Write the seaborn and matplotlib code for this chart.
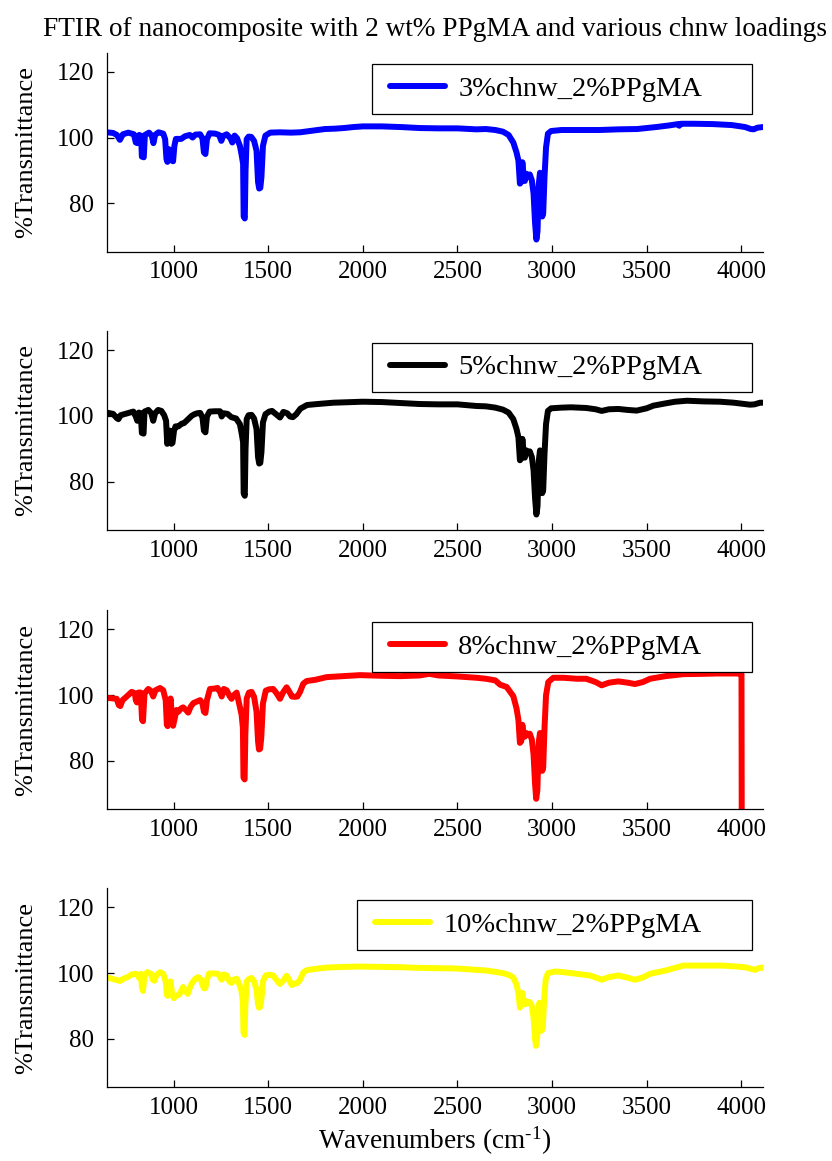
import matplotlib
matplotlib.use("Agg")
import matplotlib.pyplot as plt
import numpy as np
import pandas as pd
import seaborn as sns
from matplotlib.legend_handler import HandlerLine2D
from matplotlib.lines import Line2D

# Wavenumber (cm^-1) and %Transmittance for each chnw loading
wn_3 = [646, 680, 700, 716, 732, 760, 790, 800, 808, 818, 828, 832, 842, 848, 870, 885, 893, 902, 920, 945,
        955, 962, 967, 974, 982, 990, 997, 1004, 1012, 1040, 1060, 1085, 1100, 1115, 1140, 1152, 1160, 1168, 1176, 1190,
        1220, 1240, 1252, 1262, 1280, 1300, 1310, 1322, 1335, 1350, 1360, 1367, 1370, 1376, 1380, 1386, 1396, 1410, 1425, 1438,
        1446, 1452, 1458, 1464, 1472, 1485, 1510, 1560, 1620, 1668, 1720, 1760, 1800, 1850, 1900, 1950, 2000, 2100, 2200, 2300,
        2400, 2500, 2600, 2650, 2700, 2740, 2770, 2795, 2812, 2822, 2830, 2837, 2843, 2850, 2856, 2864, 2872, 2882, 2893, 2902,
        2910, 2917, 2923, 2930, 2936, 2942, 2948, 2953, 2960, 2968, 2978, 2995, 3050, 3150, 3250, 3350, 3450, 3550, 3620, 3665,
        3672, 3680, 3750, 3850, 3950, 4020, 4050, 4065, 4085, 4113]
t_3 = [101.6, 101.4, 100.8, 99.3, 101.0, 101.5, 101.0, 98.5, 98.3, 100.8, 100.5, 94.2, 94.0, 100.8, 101.5, 100.5, 98.3, 100.8, 101.6, 101.2,
       99.5, 93.5, 92.6, 96.5, 95.5, 93.0, 92.8, 97.5, 99.6, 99.6, 100.4, 100.8, 100.0, 100.9, 101.0, 99.8, 95.5, 95.0, 99.5, 101.3,
       101.2, 100.8, 99.0, 100.5, 101.0, 99.8, 98.5, 100.6, 99.8, 97.5, 94.5, 92.0, 76.0, 75.4, 90.0, 99.5, 100.3, 100.2, 99.0, 96.0,
       86.5, 84.5, 84.7, 88.0, 97.5, 100.6, 101.5, 101.6, 101.5, 101.6, 102.0, 102.3, 102.6, 102.7, 102.9, 103.2, 103.4, 103.4, 103.2, 102.9,
       102.8, 102.8, 102.5, 102.6, 102.3, 101.8, 100.8, 98.5, 95.5, 93.0, 86.0, 86.5, 92.5, 88.0, 86.8, 89.0, 88.2, 88.8, 87.0, 83.0,
       74.0, 69.0, 71.5, 86.0, 89.3, 86.0, 76.0, 77.0, 88.0, 97.0, 101.2, 102.0, 102.3, 102.3, 102.3, 102.5, 102.6, 103.2, 103.7, 104.1,
       103.6, 104.2, 104.2, 104.1, 103.8, 103.2, 102.6, 102.5, 103.0, 103.2]

wn_5 = [646, 680, 700, 708, 720, 745, 770, 787, 800, 808, 816, 826, 832, 841, 846, 866, 882, 892, 902, 918,
        935, 950, 960, 966, 972, 980, 988, 994, 1002, 1010, 1025, 1042, 1055, 1077, 1095, 1110, 1125, 1140, 1152, 1160,
        1168, 1176, 1190, 1220, 1245, 1254, 1264, 1285, 1305, 1330, 1350, 1360, 1367, 1370, 1376, 1380, 1386, 1396, 1412, 1425,
        1438, 1446, 1452, 1458, 1464, 1472, 1485, 1505, 1520, 1545, 1562, 1580, 1600, 1615, 1630, 1648, 1670, 1705, 1760, 1844,
        1950, 2000, 2100, 2200, 2300, 2400, 2500, 2600, 2650, 2700, 2740, 2770, 2795, 2812, 2822, 2830, 2837, 2843, 2850, 2856,
        2864, 2872, 2882, 2893, 2902, 2910, 2917, 2923, 2930, 2936, 2942, 2948, 2953, 2960, 2968, 2978, 2995, 3050, 3100, 3180,
        3230, 3262, 3300, 3350, 3400, 3447, 3500, 3535, 3600, 3650, 3712, 3800, 3888, 3960, 4020, 4046, 4070, 4099, 4113]
t_5 = [101.0, 100.6, 99.3, 99.0, 100.2, 100.6, 101.0, 101.3, 99.8, 98.5, 101.0, 100.8, 94.8, 94.6, 101.3, 101.8, 100.8, 98.5, 100.8, 101.8,
       101.5, 100.2, 98.5, 91.5, 93.0, 95.5, 91.5, 91.8, 95.5, 96.8, 96.8, 97.6, 97.8, 99.0, 100.0, 100.5, 100.8, 100.9, 99.6, 95.5,
       95.0, 99.8, 101.3, 101.4, 101.4, 99.8, 100.8, 100.6, 99.6, 99.2, 97.5, 94.5, 92.0, 76.5, 75.7, 90.0, 99.0, 100.2, 100.3, 99.2,
       96.0, 87.5, 85.5, 85.7, 89.0, 98.0, 100.5, 101.3, 101.5, 100.3, 99.5, 101.2, 100.8, 99.8, 99.6, 100.5, 102.2, 103.3, 103.6, 104.0,
       104.2, 104.3, 104.2, 103.9, 103.6, 103.5, 103.5, 103.0, 102.9, 102.5, 101.9, 101.0, 99.0, 96.0, 93.5, 86.5, 87.0, 93.0, 88.5, 87.3,
       89.5, 88.8, 89.2, 87.5, 83.5, 75.0, 70.0, 72.5, 86.5, 89.5, 86.5, 76.5, 77.5, 88.5, 97.5, 101.5, 102.3, 102.5, 102.6, 102.4,
       102.0, 101.5, 102.0, 102.1, 101.8, 101.6, 102.3, 103.1, 103.8, 104.3, 104.6, 104.4, 104.3, 104.0, 103.6, 103.4, 103.5, 104.0, 104.0]

wn_8 = [646, 680, 699, 710, 718, 730, 750, 778, 795, 800, 806, 814, 826, 833, 838, 846, 866, 880, 892, 904,
        928, 945, 958, 964, 968, 976, 984, 990, 997, 1004, 1015, 1025, 1040, 1050, 1065, 1077, 1090, 1104, 1120, 1140,
        1152, 1160, 1168, 1176, 1192, 1215, 1232, 1245, 1254, 1265, 1280, 1295, 1306, 1318, 1333, 1348, 1359, 1366, 1369, 1375,
        1379, 1386, 1398, 1412, 1425, 1438, 1446, 1451, 1457, 1463, 1472, 1487, 1505, 1526, 1545, 1562, 1578, 1597, 1612, 1625,
        1640, 1654, 1668, 1685, 1703, 1750, 1809, 1900, 1985, 2100, 2200, 2300, 2350, 2400, 2500, 2600, 2650, 2700, 2725, 2760,
        2795, 2812, 2822, 2830, 2837, 2843, 2850, 2856, 2864, 2872, 2882, 2893, 2902, 2910, 2916, 2922, 2930, 2936, 2942, 2948,
        2953, 2960, 2968, 2980, 3006, 3060, 3130, 3180, 3230, 3262, 3300, 3350, 3400, 3438, 3480, 3518, 3600, 3694, 3800, 3870,
        3950, 3984, 4001, 4003]
t_8 = [99.2, 99.0, 98.9, 97.0, 96.7, 98.5, 99.5, 101.0, 100.6, 98.5, 97.8, 100.8, 100.8, 92.5, 92.1, 100.5, 101.9, 101.3, 99.6, 101.5,
       102.2, 101.5, 98.5, 91.0, 90.6, 96.0, 99.0, 94.0, 90.7, 92.5, 95.5, 95.0, 96.0, 96.3, 95.5, 94.7, 96.5, 97.6, 98.0, 98.5,
       97.5, 95.0, 94.6, 98.5, 101.9, 102.0, 102.2, 101.0, 99.6, 101.9, 101.5, 99.8, 98.9, 100.0, 100.8, 97.0, 94.1, 90.0, 75.0, 74.4,
       88.0, 99.0, 100.8, 101.0, 99.5, 95.0, 86.0, 83.5, 83.7, 87.0, 97.5, 101.4, 101.8, 101.9, 100.5, 98.9, 100.8, 102.4, 101.0, 99.6,
       99.5, 99.6, 101.0, 103.5, 104.3, 104.7, 105.5, 105.8, 106.1, 105.9, 105.8, 106.0, 106.5, 106.0, 105.7, 105.3, 105.0, 104.5, 103.2, 102.5,
       99.7, 96.0, 92.5, 85.5, 86.0, 91.0, 87.5, 87.4, 88.5, 88.0, 88.3, 86.5, 82.0, 73.0, 68.5, 71.0, 86.0, 88.5, 85.0, 77.0,
       78.0, 90.0, 100.0, 104.0, 105.3, 105.3, 105.0, 105.0, 104.0, 103.0, 103.8, 104.2, 103.8, 103.4, 104.0, 105.0, 105.8, 106.4, 106.5, 106.6,
       106.6, 106.6, 106.5, 30.0]

wn_10 = [646, 680, 700, 716, 735, 760, 778, 800, 810, 818, 826, 833, 838, 846, 861, 880, 890, 898, 910, 928,
         945, 958, 964, 968, 976, 984, 992, 1001, 1010, 1030, 1050, 1065, 1074, 1085, 1097, 1115, 1130, 1145, 1152, 1160,
         1168, 1176, 1187, 1215, 1235, 1245, 1254, 1265, 1280, 1295, 1306, 1318, 1333, 1348, 1359, 1366, 1369, 1375, 1379, 1386,
         1400, 1412, 1425, 1438, 1446, 1451, 1457, 1463, 1472, 1487, 1505, 1526, 1545, 1562, 1580, 1597, 1610, 1624, 1640, 1654,
         1668, 1685, 1703, 1750, 1809, 1900, 1985, 2100, 2200, 2300, 2400, 2500, 2600, 2650, 2700, 2740, 2770, 2795, 2812, 2822,
         2830, 2837, 2843, 2850, 2856, 2864, 2872, 2882, 2893, 2902, 2910, 2915, 2921, 2928, 2933, 2939, 2945, 2951, 2958, 2966,
         2978, 3016, 3060, 3130, 3200, 3240, 3262, 3300, 3350, 3400, 3438, 3480, 3518, 3600, 3694, 3800, 3900, 3980, 4029, 4050,
         4073, 4090, 4113]
t_10 = [98.7, 98.2, 97.9, 97.6, 98.3, 98.9, 99.6, 99.8, 99.5, 98.5, 99.8, 95.5, 94.6, 99.5, 100.3, 99.8, 98.0, 97.7, 99.5, 100.3,
        99.8, 97.5, 93.5, 93.1, 96.0, 97.5, 93.5, 92.4, 93.0, 93.5, 95.8, 94.5, 93.7, 95.5, 97.0, 98.3, 98.8, 98.0, 96.5, 95.4,
        95.5, 98.0, 99.9, 99.9, 99.8, 98.8, 98.0, 99.6, 99.3, 97.5, 97.0, 98.0, 98.3, 96.5, 94.4, 91.0, 82.0, 81.2, 90.0, 97.5,
        98.3, 98.5, 97.5, 95.0, 90.5, 89.5, 89.7, 91.5, 97.5, 99.3, 99.5, 99.3, 97.8, 96.7, 97.8, 99.2, 98.0, 96.4, 96.8, 97.0,
        98.0, 100.2, 100.9, 101.3, 101.7, 101.9, 102.0, 101.9, 101.8, 101.6, 101.5, 101.4, 101.0, 100.8, 100.4, 100.0, 99.5, 98.7, 96.5, 94.0,
        89.5, 90.5, 94.0, 91.0, 90.5, 91.5, 91.0, 91.2, 90.0, 86.5, 80.0, 77.9, 80.0, 88.5, 91.0, 88.0, 82.5, 83.5, 92.0, 98.0,
        100.0, 100.5, 100.3, 99.8, 99.3, 98.5, 98.0, 98.8, 99.3, 98.6, 98.0, 98.7, 99.8, 100.8, 102.3, 102.3, 102.3, 102.0, 101.7, 101.3,
        101.0, 101.5, 101.7]

series_labels = ["3%chnw_2%PPgMA", "5%chnw_2%PPgMA", "8%chnw_2%PPgMA", "10%chnw_2%PPgMA"]
series_colors = ["#0000ff", "#000000", "#ff0000", "#ffff00"]
x_ticks = [1000, 1500, 2000, 2500, 3000, 3500, 4000]
y_ticks = [80, 100, 120]

title_text = "FTIR of nanocomposite with 2 wt% PPgMA and various chnw loadings"
y_label = "%Transmittance"
x_label = r"Wavenumbers (cm$^{\text{-1}}$)"

sns.set_theme(style="ticks")
plt.rcParams["font.family"] = ["Liberation Serif", "DejaVu Serif"]
plt.rcParams["mathtext.fontset"] = "custom"
plt.rcParams["mathtext.rm"] = "Liberation Serif"
plt.rcParams["mathtext.it"] = "Liberation Serif:italic"
plt.rcParams["mathtext.bf"] = "Liberation Serif:bold"
plt.rcParams["text.color"] = "black"
plt.rcParams["axes.labelcolor"] = "black"
plt.rcParams["xtick.color"] = "black"
plt.rcParams["ytick.color"] = "black"

TICK_FS = 18
LABEL_FS = 19.6
YLABEL_FS = 19.0
LEGEND_FS = 20.5


class InsetLineHandler(HandlerLine2D):
    """Legend line sample that starts a little to the right of the handle box."""

    def __init__(self, inset, **kwargs):
        super().__init__(**kwargs)
        self.inset = inset

    def get_xdata(self, legend, xdescent, ydescent, width, height, fontsize):
        xdata, xdata_marker = super().get_xdata(legend, xdescent, ydescent, width, height, fontsize)
        xdata = np.asarray(xdata, dtype=float)
        xdata[0] += self.inset
        return xdata, xdata_marker


fig = plt.figure(figsize=(8.32, 11.61), dpi=100)

ax_left, ax_width, ax_height = 0.1282, 0.7885, 0.1714
bottoms = [0.7832, 0.5435, 0.3029, 0.0635]
legend_boxes = [(0.4044, 0.5793), (0.4044, 0.5793), (0.4044, 0.5793), (0.3817, 0.6020)]

all_series = [(wn_3, t_3), (wn_5, t_5), (wn_8, t_8), (wn_10, t_10)]

for i, ((wn, tr), label, color) in enumerate(zip(all_series, series_labels, series_colors)):
    ax = fig.add_axes([ax_left, bottoms[i], ax_width, ax_height])
    df = pd.DataFrame({"wavenumber": wn, "transmittance": tr})
    sns.lineplot(data=df, x="wavenumber", y="transmittance", ax=ax, color=color,
                 linewidth=4.3, label=label, estimator=None, sort=False)
    ax.set_xlim(646, 4113)
    ax.set_ylim(65.3, 125.8)
    ax.set_xticks(x_ticks)
    ax.set_yticks(y_ticks)
    ax.tick_params(direction="in", length=5, width=0.9, colors="black",
                   labelsize=TICK_FS, pad=7)
    ax.tick_params(axis="y", pad=9)
    sns.despine(ax=ax)
    for side in ("left", "bottom"):
        ax.spines[side].set_color("black")
        ax.spines[side].set_linewidth(0.9)
    ax.set_ylabel(y_label, fontsize=YLABEL_FS)
    ax.yaxis.set_label_coords(-0.106, 0.5)
    ax.set_xlabel(x_label if i == 3 else "", fontsize=LABEL_FS)
    x0, w = legend_boxes[i]
    leg = ax.legend(loc="upper left", bbox_to_anchor=(x0, 0.0, w, 0.9417), mode="expand",
                    borderaxespad=0, frameon=True, fancybox=False, framealpha=1,
                    edgecolor="black", fontsize=LEGEND_FS, handlelength=2.15,
                    handletextpad=0.46, borderpad=0.42,
                    handler_map={Line2D: InsetLineHandler(inset=4.3)})
    leg.get_frame().set_linewidth(0.9)
    for txt in leg.get_texts():
        txt.set_color("black")
    if i == 0:
        ax.set_title(title_text, fontsize=LABEL_FS, pad=12, color="black")

fig.savefig("out.png", dpi=100, facecolor="white")
